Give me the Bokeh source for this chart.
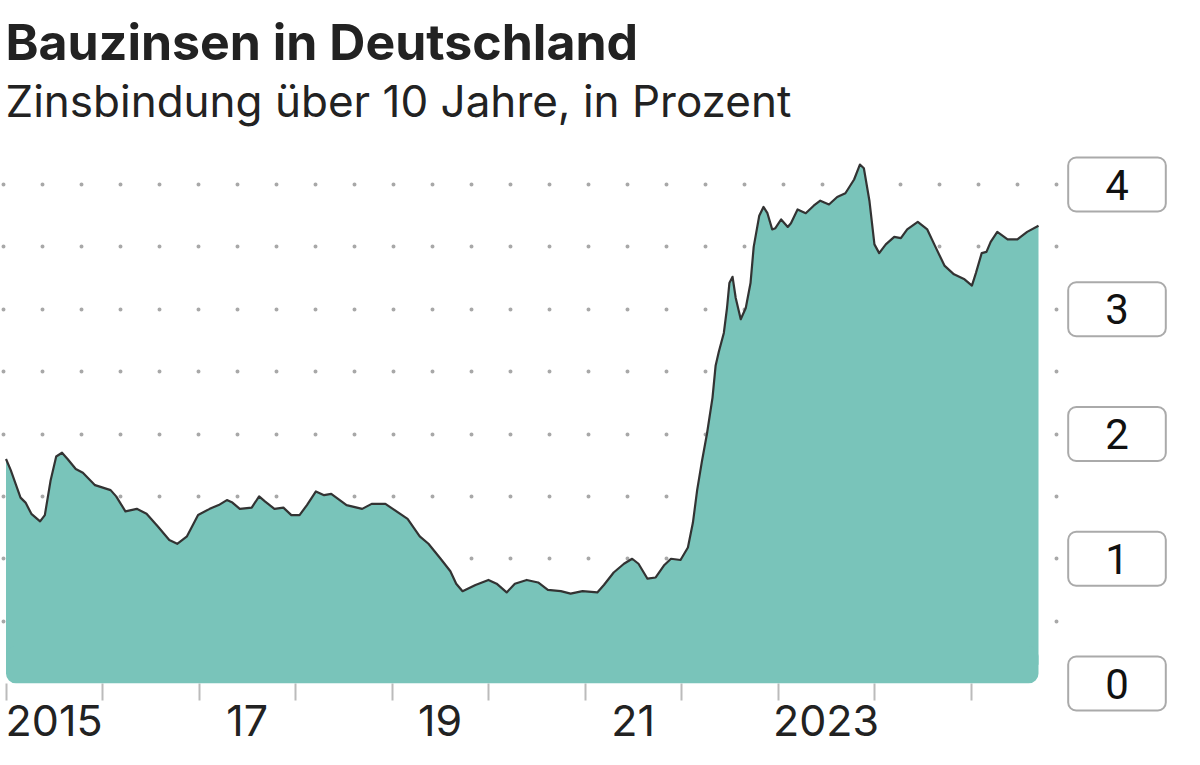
from datetime import datetime, timedelta
import pandas as pd
from bokeh.plotting import figure
from bokeh.layouts import row
from bokeh.models import Title, FixedTicker, Grid, BoxAnnotation, Range1d, ColumnDataSource
from bokeh.core.properties import value
from bokeh.embed import file_html
from bokeh.resources import INLINE

# ---------------- data ----------------
dates = [
    "2015-01-01", "2015-01-19", "2015-02-25", "2015-03-16", "2015-04-07", "2015-05-10",
    "2015-05-28", "2015-06-19", "2015-07-10", "2015-08-01", "2015-08-22", "2015-09-22",
    "2015-10-19", "2015-12-04", "2016-02-01", "2016-02-22", "2016-03-28", "2016-05-10",
    "2016-06-16", "2016-07-28", "2016-09-10", "2016-10-10", "2016-11-16", "2016-12-28",
    "2017-02-10", "2017-03-16", "2017-04-16", "2017-05-07", "2017-06-04", "2017-07-19",
    "2017-08-16", "2017-09-07", "2017-10-13", "2017-11-16", "2017-12-16", "2018-01-16",
    "2018-02-13", "2018-03-19", "2018-04-19", "2018-05-16", "2018-07-13", "2018-09-10",
    "2018-10-16", "2018-12-07", "2019-01-04", "2019-03-01", "2019-04-16", "2019-05-19",
    "2019-07-04", "2019-08-10", "2019-09-01", "2019-09-25", "2019-11-13", "2020-01-01",
    "2020-02-01", "2020-03-10", "2020-04-10", "2020-05-25", "2020-07-07", "2020-08-13",
    "2020-10-01", "2020-11-07", "2020-12-22", "2021-02-16", "2021-03-13", "2021-04-19",
    "2021-05-28", "2021-06-28", "2021-07-22", "2021-08-25", "2021-09-25", "2021-10-28",
    "2021-11-22", "2021-12-28", "2022-01-25", "2022-02-13", "2022-03-01", "2022-03-19",
    "2022-04-07", "2022-04-28", "2022-05-10", "2022-05-22", "2022-06-10", "2022-06-22",
    "2022-07-01", "2022-07-13", "2022-07-25", "2022-08-13", "2022-09-01", "2022-09-19",
    "2022-10-01", "2022-10-22", "2022-11-07", "2022-11-22", "2022-12-10", "2022-12-22",
    "2023-01-13", "2023-02-07", "2023-02-19", "2023-03-16", "2023-04-16", "2023-05-16",
    "2023-06-10", "2023-07-13", "2023-08-13", "2023-09-13", "2023-10-16", "2023-11-07",
    "2023-11-22", "2023-12-13", "2024-01-01", "2024-01-19", "2024-02-13", "2024-03-16",
    "2024-04-10", "2024-05-04", "2024-06-13", "2024-07-19", "2024-08-19", "2024-09-22",
    "2024-10-28", "2024-12-07", "2025-01-04", "2025-01-19", "2025-02-10", "2025-02-28",
    "2025-03-16", "2025-04-10", "2025-05-19", "2025-06-25", "2025-08-01", "2025-09-13",
]
rates = [
    1.80, 1.71, 1.49, 1.45, 1.36, 1.30,
    1.35, 1.63, 1.82, 1.85, 1.80, 1.72,
    1.69, 1.59, 1.55, 1.50, 1.38, 1.40,
    1.36, 1.26, 1.15, 1.12, 1.18, 1.35,
    1.40, 1.43, 1.47, 1.45, 1.40, 1.41,
    1.50, 1.46, 1.40, 1.41, 1.35, 1.35,
    1.43, 1.54, 1.51, 1.52, 1.43, 1.40,
    1.44, 1.44, 1.40, 1.32, 1.18, 1.12,
    1.00, 0.90, 0.80, 0.74, 0.79, 0.83,
    0.80, 0.73, 0.80, 0.83, 0.81, 0.75,
    0.74, 0.72, 0.74, 0.73, 0.79, 0.89,
    0.96, 1.00, 0.96, 0.84, 0.85, 0.95,
    1.00, 0.99, 1.09, 1.29, 1.55, 1.78,
    2.00, 2.29, 2.55, 2.66, 2.81, 3.01,
    3.21, 3.26, 3.09, 2.92, 3.01, 3.21,
    3.50, 3.75, 3.82, 3.77, 3.64, 3.65,
    3.72, 3.66, 3.69, 3.80, 3.77, 3.83,
    3.87, 3.84, 3.90, 3.93, 4.04, 4.16,
    4.13, 3.87, 3.52, 3.45, 3.52, 3.58,
    3.57, 3.64, 3.70, 3.64, 3.50, 3.35,
    3.28, 3.24, 3.19, 3.29, 3.45, 3.46,
    3.54, 3.62, 3.56, 3.56, 3.62, 3.67,
]
label_years = [2015, 2017, 2019, 2021, 2023]
label_texts = ["2015", "17", "19", "21", "2023"]
tick_years = list(range(2015, 2026))
y_labels = [0, 1, 2, 3, 4]
grid_levels = [0.5, 1.0, 1.5, 2.0, 2.5, 3.0, 3.5, 4.0]

# ---------------- styling ----------------
FONT = "Inter"
AREA = "#79c4ba"
LINE = "#333333"
TEXT = "#222222"
PX_PER_YEAR = 96.5
PX_PER_UNIT = 124.75
FRAME_TOP = 127
ZERO_Y = 683
H = 765
W_MAIN = 1060
W_LAB = 140

def ms(dt):
    return (dt - datetime(1970, 1, 1)).total_seconds() * 1000.0

origin = datetime(2015, 1, 1)
x_start = origin - timedelta(days=5.5 / PX_PER_YEAR * 365.25)
x_end = origin + timedelta(days=(W_MAIN - 5.5) / PX_PER_YEAR * 365.25)
y_top = (ZERO_Y - FRAME_TOP) / PX_PER_UNIT
y_bot = -(H - ZERO_Y) / PX_PER_UNIT

x = pd.to_datetime(dates)
src = ColumnDataSource(dict(x=x, y=rates))

p = figure(width=W_MAIN, height=H, x_axis_type="datetime", y_axis_location=None,
           output_backend="svg", toolbar_location=None, title=None,
           x_range=Range1d(x_start, x_end), y_range=Range1d(0, y_top),
           min_border_left=0, min_border_right=0, min_border_top=FRAME_TOP,
           min_border_bottom=H - ZERO_Y)
p.frame_align = False
p.outline_line_color = None
p.background_fill_color = "white"
p.border_fill_color = "white"
p.ygrid.visible = False
p.xgrid.visible = False

# titles
sub = Title(text="Zinsbindung über 10 Jahre, in Prozent", text_font=FONT,
            text_font_size="44px", text_font_style="normal", text_color=TEXT,
            align="left", standoff=0, offset=5)
main = Title(text="Bauzinsen in Deutschland", text_font=FONT,
             text_font_size="50px", text_font_style="bold", text_color=TEXT,
             align="left", standoff=0, offset=5)
p.add_layout(sub, "above")
p.add_layout(main, "above")

# dotted horizontal grid
grid = Grid(dimension=1, ticker=FixedTicker(ticks=grid_levels),
            grid_line_color="#a8a8a8", grid_line_width=4, grid_line_dash="0 39",
            grid_line_dash_offset=36, grid_line_cap="round")
p.add_layout(grid)

# area with rounded bottom corners
p.varea(x="x", y1="y", y2=0.15, source=src, fill_color=AREA, fill_alpha=1)
p.add_layout(BoxAnnotation(left=ms(x[0].to_pydatetime()), right=ms(x[-1].to_pydatetime()),
                           bottom=0, top=0.3, border_radius=10,
                           fill_color=AREA, fill_alpha=1, line_color=None))
p.line(x="x", y="y", source=src, line_color=LINE, line_width=2.2, line_join="round")

# x axis: tick marks at year starts, labels at mid-year
major = [ms(datetime(yy, 7, 2)) for yy in label_years]
minor = [ms(datetime(yy, 1, 1)) for yy in tick_years]
ax = p.xaxis[0]
ax.ticker = FixedTicker(ticks=major, minor_ticks=minor)
ax.major_label_overrides = {m: t for m, t in zip(major, label_texts)}
ax.axis_line_color = None
ax.major_tick_line_color = None
ax.major_tick_out = 0
ax.major_tick_in = 0
ax.minor_tick_line_color = "#bbbbbb"
ax.minor_tick_line_width = 2
ax.minor_tick_out = 17
ax.minor_tick_in = 0
ax.major_label_standoff = 4
ax.major_label_text_font = FONT
ax.major_label_text_font_size = "43px"
ax.major_label_text_color = TEXT

# right-hand value labels in rounded boxes (same vertical scale as the chart)
q = figure(width=W_LAB, height=H, x_axis_location=None, y_axis_location=None,
           output_backend="svg", toolbar_location=None, title=None,
           x_range=Range1d(0, W_LAB), y_range=Range1d(y_bot, y_top),
           min_border_left=0, min_border_right=0, min_border_top=FRAME_TOP,
           min_border_bottom=0)
q.frame_align = False
q.outline_line_color = None
q.xgrid.visible = False
q.ygrid.visible = False
q.text(x=56.5, y=y_labels, text=[str(v) for v in y_labels],
       text_font=value("Roboto"), text_font_size="42px", text_color="#111111",
       text_align="center", text_baseline="middle",
       padding=dict(left=37, right=37, top=12, bottom=12), border_radius=8,
       background_fill_color="white",
       border_line_color="#aaaaaa", border_line_width=2)

layout = row(p, q, spacing=0)
open("out.html", "w").write(file_html(layout, INLINE))
